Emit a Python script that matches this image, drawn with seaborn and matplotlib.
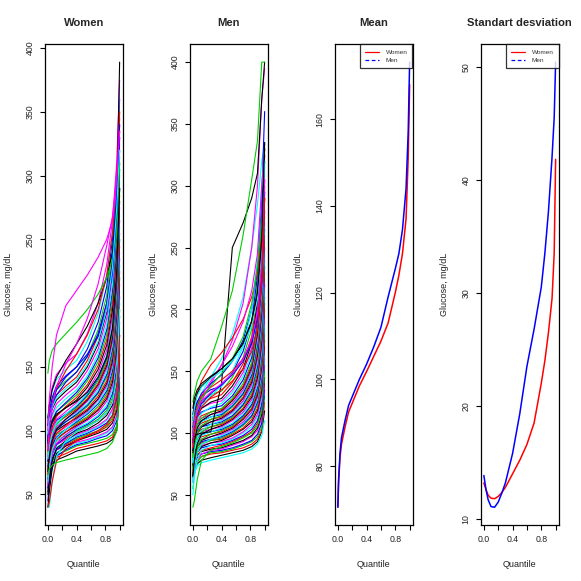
import numpy as np
import pandas as pd
import matplotlib
matplotlib.use("Agg")
import matplotlib.pyplot as plt
from matplotlib.lines import Line2D
import seaborn as sns

# ---------------- data ----------------
quantile_knots = [0, .02, .06, .12, .25, .4, .55, .7, .82, .9, .96, 1]

women_curves = [
    [52, 62, 72, 77, 80, 84, 86, 88, 90, 93, 100, 130],
    [55, 65, 74, 79, 82, 86, 88, 90, 92, 95, 103, 135],
    [58, 68, 76, 81, 84, 88, 90, 92, 94, 97, 104, 138],
    [45, 58, 72, 80, 85, 89, 91, 94, 96, 100, 108, 142],
    [62, 70, 78, 83, 86, 90, 92, 95, 98, 102, 110, 150],
    [68, 74, 80, 85, 88, 91, 93, 96, 99, 103, 112, 155],
    [40, 52, 70, 82, 88, 92, 95, 98, 101, 106, 116, 160],
    [60, 70, 79, 85, 89, 93, 96, 99, 103, 108, 118, 165],
    [70, 76, 83, 87, 90, 94, 97, 100, 104, 110, 122, 170],
    [55, 66, 78, 85, 90, 95, 98, 102, 106, 112, 126, 175],
    [65, 73, 81, 87, 91, 96, 99, 103, 108, 115, 130, 180],
    [72, 78, 85, 89, 93, 97, 100, 104, 109, 117, 133, 185],
    [50, 62, 76, 86, 92, 98, 101, 106, 112, 120, 138, 190],
    [66, 75, 84, 90, 94, 99, 103, 108, 114, 123, 142, 195],
    [74, 80, 87, 92, 96, 100, 104, 109, 116, 126, 146, 200],
    [62, 72, 82, 89, 95, 101, 105, 111, 118, 129, 150, 205],
    [70, 78, 86, 92, 97, 102, 106, 112, 120, 132, 155, 210],
    [58, 70, 82, 90, 97, 103, 108, 114, 123, 135, 160, 215],
    [76, 82, 89, 94, 99, 104, 109, 116, 125, 138, 165, 220],
    [66, 76, 86, 93, 99, 105, 110, 117, 127, 141, 170, 225],
    [80, 86, 92, 97, 101, 106, 111, 119, 129, 144, 175, 230],
    [72, 80, 89, 95, 101, 107, 113, 121, 131, 147, 180, 235],
    [60, 72, 85, 94, 101, 108, 114, 122, 133, 150, 185, 240],
    [78, 85, 92, 98, 103, 109, 115, 124, 135, 152, 188, 245],
    [84, 89, 95, 100, 105, 110, 116, 125, 137, 155, 192, 250],
    [70, 80, 90, 98, 104, 111, 117, 127, 139, 158, 195, 255],
    [86, 91, 97, 102, 107, 112, 119, 129, 142, 161, 200, 260],
    [76, 85, 94, 101, 107, 113, 120, 130, 144, 164, 205, 265],
    [90, 95, 100, 104, 109, 114, 121, 132, 146, 167, 210, 270],
    [80, 88, 96, 103, 109, 115, 123, 134, 149, 170, 215, 275],
    [68, 80, 92, 101, 109, 116, 124, 136, 151, 173, 218, 280],
    [88, 94, 100, 106, 111, 117, 125, 137, 153, 176, 222, 285],
    [82, 90, 98, 105, 112, 118, 127, 139, 155, 179, 226, 290],
    [92, 97, 103, 108, 113, 119, 128, 141, 157, 182, 230, 290],
    [78, 88, 98, 106, 113, 120, 129, 142, 159, 185, 234, 295],
    [86, 94, 102, 109, 115, 122, 131, 145, 163, 190, 240, 300],
    [94, 100, 106, 112, 118, 124, 134, 148, 167, 195, 245, 305],
    [84, 93, 103, 111, 119, 126, 136, 151, 171, 200, 250, 310],
    [96, 102, 109, 115, 121, 128, 139, 154, 175, 205, 255, 315],
    [90, 98, 107, 115, 122, 130, 141, 157, 179, 210, 260, 320],
    [100, 106, 112, 118, 125, 132, 143, 160, 183, 215, 265, 325],
    [95, 104, 113, 121, 128, 135, 147, 164, 188, 222, 272, 330],
    [104, 110, 117, 124, 131, 138, 150, 168, 193, 228, 278, 335],
    [100, 110, 120, 128, 135, 142, 155, 174, 200, 235, 285, 345],
    [108, 116, 125, 132, 139, 146, 159, 179, 206, 242, 290, 350],
    [104, 115, 126, 135, 143, 150, 164, 185, 213, 250, 298, 360],
    [110, 120, 131, 140, 148, 155, 170, 192, 221, 258, 305, 370],
    [106, 120, 134, 144, 153, 160, 176, 200, 230, 265, 310, 375],
    [110, 120, 132, 142, 155, 168, 182, 200, 220, 240, 280, 389],
    [88, 104, 120, 133, 147, 160, 175, 195, 222, 255, 300, 350],
    [145, 155, 163, 168, 176, 185, 195, 207, 220, 234, 255, 310],
    [95, 108, 122, 132, 142, 150, 160, 174, 195, 225, 270, 330],
    [40, 40, 60, 80, 92, 99, 103, 108, 114, 122, 140, 195],
    [100, 125, 150, 175, 198, 210, 222, 236, 250, 265, 290, 340],
    [92, 100, 108, 113, 118, 123, 130, 142, 158, 180, 225, 290],
    [40, 44, 60, 76, 86, 92, 96, 100, 105, 112, 128, 175],
    [65, 70, 73, 75, 77, 79, 81, 83, 86, 91, 100, 130],
    [90, 104, 118, 128, 138, 146, 158, 176, 200, 232, 280, 340],
    [98, 108, 118, 126, 133, 140, 152, 170, 195, 228, 275, 320],
    [85, 102, 120, 135, 152, 168, 188, 215, 245, 268, 298, 335],
]

men_curves = [
    [64, 70, 75, 78, 80, 82, 84, 86, 89, 93, 101, 118],
    [66, 72, 78, 81, 83, 84, 86, 88, 91, 95, 102, 125],
    [55, 66, 76, 81, 84, 85, 87, 90, 93, 97, 105, 130],
    [70, 75, 80, 83, 85, 86, 88, 91, 94, 99, 108, 135],
    [62, 68, 73, 76, 78, 80, 82, 84, 87, 91, 98, 110],
    [60, 70, 78, 83, 86, 87, 90, 93, 97, 102, 112, 140],
    [72, 77, 82, 85, 87, 88, 91, 94, 98, 104, 115, 145],
    [68, 75, 82, 86, 88, 90, 93, 97, 101, 108, 121, 155],
    [40, 45, 62, 78, 86, 89, 92, 96, 100, 106, 118, 150],
    [74, 80, 85, 88, 90, 91, 94, 98, 103, 110, 124, 160],
    [50, 64, 78, 86, 90, 92, 95, 100, 105, 113, 128, 165],
    [76, 82, 87, 90, 92, 93, 96, 101, 107, 115, 131, 170],
    [66, 75, 84, 89, 92, 94, 98, 103, 109, 118, 134, 175],
    [78, 84, 89, 92, 94, 95, 99, 104, 111, 120, 138, 180],
    [72, 80, 87, 91, 94, 96, 100, 106, 113, 123, 142, 185],
    [80, 86, 90, 93, 95, 97, 101, 107, 114, 125, 145, 190],
    [60, 72, 84, 91, 95, 98, 102, 108, 116, 127, 148, 195],
    [82, 87, 92, 95, 97, 99, 103, 109, 117, 129, 151, 200],
    [74, 82, 89, 94, 97, 100, 104, 111, 119, 131, 154, 205],
    [84, 89, 94, 97, 99, 101, 105, 112, 120, 133, 157, 210],
    [70, 80, 89, 95, 99, 102, 106, 113, 122, 135, 160, 215],
    [86, 91, 96, 99, 101, 103, 107, 114, 123, 137, 163, 220],
    [78, 86, 93, 98, 101, 104, 108, 116, 125, 139, 166, 225],
    [88, 93, 98, 101, 103, 105, 110, 117, 127, 142, 170, 230],
    [65, 78, 91, 99, 103, 106, 111, 119, 129, 145, 174, 235],
    [90, 95, 100, 103, 105, 107, 112, 120, 131, 148, 178, 240],
    [82, 89, 96, 101, 105, 108, 113, 122, 133, 151, 182, 245],
    [92, 97, 102, 105, 107, 109, 114, 123, 135, 154, 186, 250],
    [76, 86, 96, 102, 107, 110, 116, 125, 137, 157, 190, 255],
    [94, 99, 103, 106, 109, 111, 117, 126, 139, 160, 194, 260],
    [86, 93, 100, 105, 109, 112, 118, 128, 141, 163, 198, 265],
    [96, 100, 105, 108, 111, 113, 119, 129, 143, 166, 202, 270],
    [80, 90, 100, 106, 111, 114, 121, 131, 145, 169, 206, 275],
    [98, 102, 107, 110, 113, 115, 122, 132, 147, 172, 210, 280],
    [90, 97, 104, 109, 113, 116, 123, 134, 149, 175, 214, 285],
    [100, 104, 109, 112, 115, 117, 124, 135, 151, 178, 218, 290],
    [84, 94, 104, 110, 115, 118, 126, 137, 153, 181, 222, 290],
    [102, 106, 110, 114, 117, 119, 127, 138, 155, 184, 226, 295],
    [94, 100, 107, 112, 117, 120, 128, 140, 157, 187, 230, 300],
    [104, 108, 113, 117, 120, 122, 130, 143, 161, 192, 236, 305],
    [96, 103, 110, 116, 121, 124, 133, 146, 165, 197, 242, 310],
    [108, 112, 116, 120, 124, 126, 135, 149, 169, 202, 248, 315],
    [100, 107, 114, 120, 125, 128, 138, 152, 173, 207, 254, 320],
    [110, 115, 120, 124, 128, 131, 141, 156, 178, 213, 260, 325],
    [104, 112, 120, 126, 131, 134, 145, 161, 184, 220, 266, 330],
    [112, 118, 125, 130, 135, 138, 149, 166, 190, 227, 272, 335],
    [100, 110, 122, 132, 145, 160, 180, 210, 250, 285, 320, 335],
    [90, 102, 115, 126, 140, 155, 175, 205, 250, 300, 370, 395],
    [95, 97, 99, 100, 101, 140, 250, 270, 290, 310, 370, 400],
    [110, 120, 132, 142, 155, 165, 177, 192, 210, 228, 262, 325],
    [125, 132, 142, 150, 160, 186, 215, 260, 305, 336, 400, 400],
    [105, 115, 125, 132, 140, 147, 158, 175, 200, 235, 290, 360],
    [100, 108, 116, 122, 130, 138, 150, 170, 200, 240, 300, 330],
    [95, 108, 120, 130, 142, 155, 170, 190, 215, 245, 300, 330],
    [115, 124, 132, 138, 145, 152, 160, 172, 190, 212, 252, 330],
    [100, 112, 122, 130, 137, 143, 150, 160, 175, 195, 232, 300],
    [100, 110, 120, 128, 138, 148, 160, 178, 205, 235, 270, 290],
    [92, 104, 115, 124, 132, 139, 147, 158, 173, 193, 230, 295],
    [110, 120, 130, 137, 144, 150, 158, 170, 187, 208, 248, 320],
    [98, 108, 118, 126, 133, 140, 148, 160, 176, 197, 236, 305],
    [120, 128, 135, 140, 146, 152, 160, 173, 191, 214, 256, 335],
    [88, 100, 112, 121, 129, 135, 142, 152, 166, 185, 222, 290],
]

mean_q = [0, .01, .03, .05, .1, .15, .2, .3, .4, .5, .6, .7, .8, .85, .9, .95, .98, 1]
women_mean = [70.5, 76, 82, 85, 89, 92.5, 94.5, 98.5, 101.8, 105.3, 108.8, 113, 120, 124, 129, 137, 151, 168]
men_mean = [70.5, 77, 83, 86.5, 90.5, 94, 96, 100, 103.5, 107.5, 112, 119, 125.5, 129, 134.5, 144, 157, 173.2]

sd_q = [0, .03, .06, .1, .15, .2, .25, .3, .4, .5, .6, .7, .8, .85, .9, .95, .98, 1]
women_sd = [13.2, 12.6, 12.1, 11.85, 11.8, 12.0, 12.35, 12.8, 14.0, 15.2, 16.6, 18.5, 22.0, 24.0, 26.5, 29.5, 33.5, 41.8]
men_sd = [13.85, 12.6, 11.7, 11.1, 11.05, 11.5, 12.3, 13.2, 15.8, 19.3, 23.5, 26.8, 30.5, 33.5, 37.2, 42.0, 45.5, 50.4]

titles = ["Women", "Men", "Mean", "Standart desviation"]
x_ticks = [0, .2, .4, .6, .8, 1.0]
x_tick_labels = ["0.0", "", "0.4", "", "0.8", ""]
glucose_ticks = [50, 100, 150, 200, 250, 300, 350, 400]
mean_ticks = [80, 100, 120, 140, 160]
sd_ticks = [10, 20, 30, 40, 50]

# ---------------- style ----------------
sns.set_theme(style="ticks")
plt.rcParams['font.family'] = ['Liberation Sans', 'DejaVu Sans']
R_COLS = ["#000000", "#FF0000", "#00CD00", "#0000FF", "#00FFFF", "#FF00FF"]

W = H = 581.0
fig = plt.figure(figsize=(5.81, 5.81), dpi=100)
box_lefts = [45, 190, 335, 481]
box_w = 77.5
box_top, box_bot = 44.3, 525.0


def make_ax(i):
    return fig.add_axes([box_lefts[i] / W, 1 - box_bot / H, box_w / W, (box_bot - box_top) / H])


def r_style(ax, lo, hi, yticks, title):
    pad = 0.04 * (hi - lo)
    ax.set_ylim(lo - pad, hi + pad)
    ax.set_xlim(-0.04, 1.04)
    ax.set_xticks(x_ticks)
    ax.set_xticklabels(x_tick_labels)
    ax.set_yticks(yticks)
    ax.set_yticklabels([str(t) for t in yticks], rotation=90, va='center')
    ax.tick_params(length=3.5, width=0.8, labelsize=6.3, pad=4, color='black', labelcolor='#222222')
    for s in ax.spines.values():
        s.set_visible(True)
        s.set_color('black')
        s.set_linewidth(0.9)
    ax.set_xlabel("Quantile", fontsize=6.5, labelpad=11, color='#222222')
    ax.set_ylabel("Glucose, mg/dL", fontsize=6.5, labelpad=9, color='#222222')
    ax.set_title(title, fontweight='bold', fontsize=8.1, pad=13)


def curves_df(curves):
    rows = []
    for i, c in enumerate(curves):
        for q, v in zip(quantile_knots, c):
            rows.append((i, q, v))
    return pd.DataFrame(rows, columns=["id", "q", "g"])


for k, curves in enumerate([women_curves, men_curves]):
    ax = make_ax(k)
    df = curves_df(curves)
    pal = {i: R_COLS[i % 6] for i in range(len(curves))}
    sns.lineplot(data=df, x="q", y="g", hue="id", units="id", estimator=None,
                 palette=pal, legend=False, lw=0.8, sort=False, ax=ax)
    r_style(ax, df["g"].min(), df["g"].max(), glucose_ticks, titles[k])


def pair_panel(i, qs, w, m, yticks):
    ax = make_ax(i)
    df = pd.DataFrame({"q": list(qs) * 2, "v": list(w) + list(m),
                       "sex": ["Women"] * len(qs) + ["Men"] * len(qs)})
    sns.lineplot(data=df, x="q", y="v", hue="sex", palette={"Women": "#FF0000", "Men": "#0000FF"},
                 estimator=None, legend=False, lw=1.1, sort=False, ax=ax)
    r_style(ax, df["v"].min(), df["v"].max(), yticks, titles[i])
    handles = [Line2D([], [], color="#FF0000", lw=0.9, ls='-'),
               Line2D([], [], color="#0000FF", lw=0.9, ls=(0, (3, 2)))]
    leg = ax.legend(handles, ["Women", "Men"], loc="upper right", fontsize=4.6, frameon=True,
                    fancybox=False, borderaxespad=0, handlelength=2.2, handletextpad=1.0,
                    borderpad=0.8, labelspacing=0.45, edgecolor='black')
    leg.get_frame().set_linewidth(0.9)
    for t in leg.get_texts():
        t.set_color('#333333')


pair_panel(2, mean_q, women_mean, men_mean, mean_ticks)
pair_panel(3, sd_q, women_sd, men_sd, sd_ticks)

fig.savefig("out.png", dpi=100, facecolor='white')
